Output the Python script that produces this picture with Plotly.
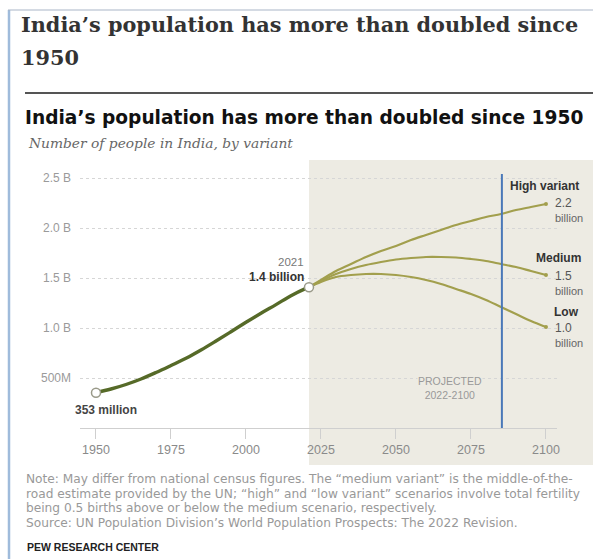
import plotly.graph_objects as go

# ---------------- data ----------------
hist_years = [1950, 1955, 1960, 1965, 1970, 1975, 1980, 1985, 1990, 1995, 2000, 2005, 2010, 2015, 2020, 2021]
hist_pop = [0.353, 0.39, 0.435, 0.49, 0.555, 0.625, 0.697, 0.78, 0.87, 0.963, 1.057, 1.148, 1.234, 1.323, 1.396, 1.408]

proj_years = [2021, 2025, 2030, 2035, 2040, 2045, 2050, 2055, 2060, 2065, 2070, 2075, 2080, 2085, 2090, 2095, 2100]
high_pop = [1.408, 1.48, 1.57, 1.64, 1.71, 1.77, 1.82, 1.88, 1.93, 1.98, 2.03, 2.07, 2.11, 2.14, 2.18, 2.21, 2.24]
medium_pop = [1.408, 1.47, 1.54, 1.59, 1.63, 1.66, 1.685, 1.70, 1.71, 1.71, 1.705, 1.69, 1.67, 1.64, 1.61, 1.57, 1.53]
low_pop = [1.408, 1.46, 1.51, 1.53, 1.54, 1.54, 1.53, 1.51, 1.48, 1.44, 1.39, 1.34, 1.28, 1.21, 1.14, 1.07, 1.01]

x_ticks = [1950, 1975, 2000, 2025, 2050, 2075, 2100]
y_ticks = [0.5, 1.0, 1.5, 2.0, 2.5]
y_tick_labels = ["500M", "1.0 B", "1.5 B", "2.0 B", "2.5 B"]

note_lines = [
    "Note: May differ from national census figures. The “medium variant” is the middle-of-the-",
    "road estimate provided by the UN; “high” and “low variant” scenarios involve total fertility",
    "being 0.5 births above or below the medium scenario, respectively.",
    "Source: UN Population Division’s World Population Prospects: The 2022 Revision.",
]

# ---------------- layout geometry ----------------
W, H = 593, 559
L, R, T, B = 80, 557, 160, 428
XR = [1944.67, 2103.67]
YR = [0, 2.68]

def px(xp):
    return (xp - L) / (R - L)

def py(yp):
    return (B - yp) / (B - T)

HIST_C = "#566a28"
PROJ_C = "#a29f4d"
SHADE = "#edebe3"

fig = go.Figure()

for ys in (high_pop, medium_pop, low_pop):
    fig.add_trace(go.Scatter(x=proj_years, y=ys, mode="lines",
                             line=dict(color=PROJ_C, width=2.2, shape="spline"),
                             hoverinfo="skip", showlegend=False))
    fig.add_trace(go.Scatter(x=[proj_years[-1]], y=[ys[-1]], mode="markers",
                             marker=dict(color=PROJ_C, size=4),
                             hoverinfo="skip", showlegend=False))

fig.add_trace(go.Scatter(x=hist_years, y=hist_pop, mode="lines",
                         line=dict(color=HIST_C, width=3.4, shape="spline"),
                         hoverinfo="skip", showlegend=False))
fig.add_trace(go.Scatter(x=[hist_years[0], hist_years[-1]], y=[hist_pop[0], hist_pop[-1]],
                         mode="markers",
                         marker=dict(color="white", size=9, line=dict(color="#9a9a8a", width=1.5)),
                         hoverinfo="skip", showlegend=False))

shapes = [
    # projected shading
    dict(type="rect", xref="paper", yref="paper", x0=(2021 - XR[0]) / (XR[1] - XR[0]), x1=px(593),
         y0=py(465), y1=py(160), fillcolor=SHADE, line=dict(width=0), layer="below"),
    # blue vertical line
    dict(type="line", xref="x", yref="y", x0=2085.3, x1=2085.3, y0=0, y1=2.54,
         line=dict(color="#4a78b8", width=2)),
    # rule under outer title
    dict(type="line", xref="paper", yref="paper", x0=px(25), x1=px(593), y0=py(93), y1=py(93),
         line=dict(color="#555555", width=2)),
    # frame left
    dict(type="line", xref="paper", yref="paper", x0=px(9), x1=px(9), y0=py(10), y1=py(559),
         line=dict(color="#9fbbdb", width=2.5)),
    # frame top
    dict(type="line", xref="paper", yref="paper", x0=px(8), x1=px(593), y0=py(10), y1=py(10),
         line=dict(color="#a9b6c8", width=1.2)),
]

ann = []
def text(x, y, s, size=11, color="#333", family="Liberation Sans", xanchor="left", yanchor="middle",
         weight=None, style=None, bgcolor=None, align="left"):
    f = dict(size=size, color=color, family=family)
    if weight:
        f["weight"] = weight
    if style:
        f["style"] = style
    a = dict(xref="paper", yref="paper", x=px(x), y=py(y), text=s, showarrow=False,
             xanchor=xanchor, yanchor=yanchor, font=f, align=align)
    if bgcolor:
        a["bgcolor"] = bgcolor
        a["borderpad"] = 0
    ann.append(a)

SERIF = "DejaVu Serif"
text(19, 25, "India’s population has more than doubled since", size=20.8, color="#333", family=SERIF, weight="bold")
text(19, 58, "1950", size=20.8, color="#333", family=SERIF, weight="bold")
text(23, 117, "India’s population has more than doubled since 1950", size=18.6, color="#111", family="DejaVu Sans", weight="bold")
text(26, 143, "Number of people in India, by variant", size=13.8, color="#666", family="DejaVu Serif", style="italic")

text(106, 410, "353 million", size=12, color="#444", weight="bold", xanchor="center")
text(306, 262, "2021", size=11.5, color="#777", xanchor="right")
text(306, 277, "1.4 billion", size=12, color="#333", xanchor="right", weight="bold")

text(508, 186, "High variant", size=12, color="#333", weight="bold")
text(553, 203, "2.2", size=12, color="#555")
text(553, 218, "billion", size=11, color="#666")
text(534, 258, "Medium", size=12, color="#333", weight="bold")
text(553, 276, "1.5", size=12, color="#555")
text(553, 291, "billion", size=11, color="#666")
text(552, 312, "Low", size=12, color="#333", weight="bold")
text(553, 328, "1.0", size=12, color="#555")
text(553, 343, "billion", size=11, color="#666")

text(450, 388, "PROJECTED<br>2022-2100", size=10.5, color="#999", xanchor="center", bgcolor=SHADE, align="center")

for i, line in enumerate(note_lines):
    text(24, 479 + i * 14.7, line, size=12.2, color="#999", family="DejaVu Sans")
text(25, 547, "PEW RESEARCH CENTER", size=10.5, color="#222", family="Liberation Sans", weight="bold")

fig.update_layout(
    width=W, height=H,
    margin=dict(l=L, r=W - R, t=T, b=H - B),
    paper_bgcolor="white", plot_bgcolor="rgba(0,0,0,0)",
    shapes=shapes, annotations=ann, showlegend=False,
    xaxis=dict(range=XR, tickvals=x_ticks, ticktext=[str(v) for v in x_ticks],
               showgrid=False, zeroline=False, showline=True, linecolor="#cfcfcf", linewidth=1,
               ticks="outside", ticklen=10, tickcolor="#cfcfcf",
               tickfont=dict(size=12.5, color="#8a8a8a", family="Liberation Sans"), fixedrange=True),
    yaxis=dict(range=YR, tickvals=y_ticks, ticktext=y_tick_labels,
               showgrid=True, gridcolor="#d6d6d6", griddash="dot", gridwidth=1,
               zeroline=False, showline=False, ticks="", ticklabelstandoff=8,
               tickfont=dict(size=12, color="#9a9a9a", family="Liberation Sans"), fixedrange=True),
)

fig.write_html("out.html")
